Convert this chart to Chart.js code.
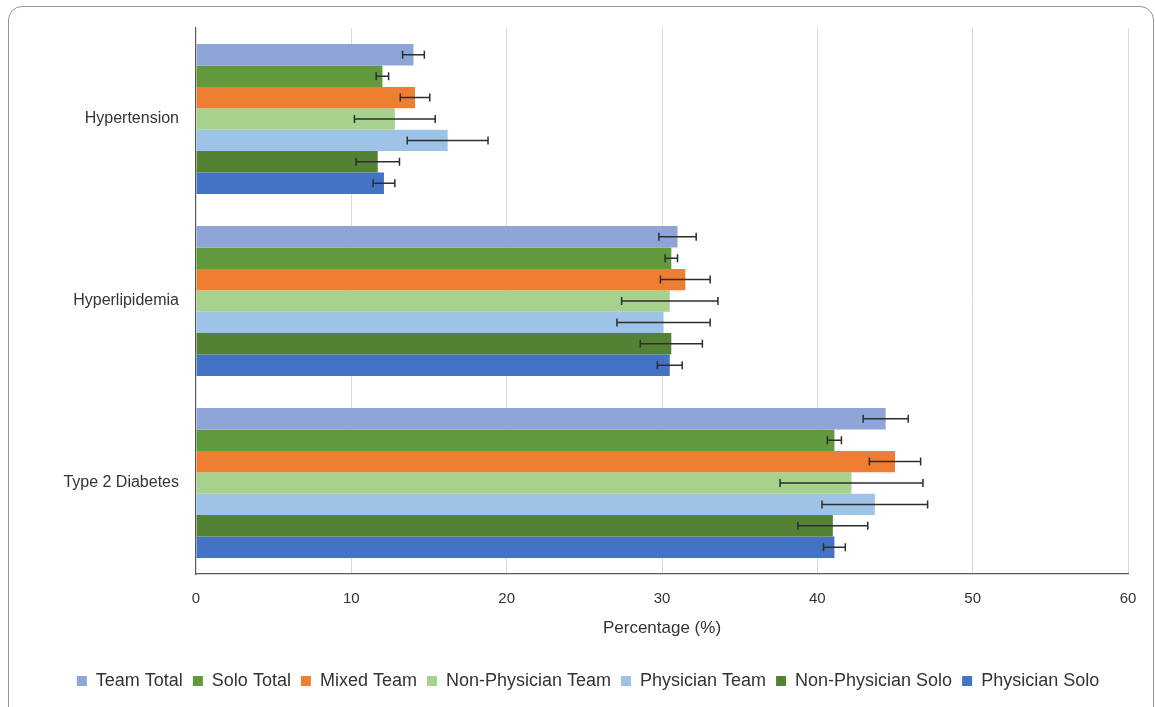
<!DOCTYPE html>
<html>
<head>
<meta charset="utf-8">
<title>Chronic condition prevalence by practice model</title>
<script src="https://cdn.jsdelivr.net/npm/chart.js@4.4.1/dist/chart.umd.min.js"></script>
<style>
  html, body { margin: 0; padding: 0; background: #ffffff; overflow: hidden; }
  #wrap { position: relative; width: 1155px; height: 707px; }
  #frame {
    position: absolute; left: 8px; top: 6px; width: 1146px; height: 730px;
    border: 1.5px solid #969696; border-radius: 14px; box-sizing: border-box;
    pointer-events: none;
  }
  canvas { position: absolute; left: 0; top: 0; }
</style>
</head>
<body>
<div id="wrap">
  <canvas id="chart" width="1155" height="707"></canvas>
  <div id="frame"></div>
</div>
<script>
// Conditions (top to bottom)
const conditions = ['Hypertension', 'Hyperlipidemia', 'Type 2 Diabetes'];

// Practice models, in legend order
const seriesNames = ['Team Total', 'Solo Total', 'Mixed Team', 'Non-Physician Team',
                     'Physician Team', 'Non-Physician Solo', 'Physician Solo'];

// Prevalence (%) per condition for each practice model
const teamTotal        = [14.0, 31.0, 44.4];
const soloTotal        = [12.0, 30.6, 41.1];
const mixedTeam        = [14.1, 31.5, 45.0];
const nonPhysicianTeam = [12.8, 30.5, 42.2];
const physicianTeam    = [16.2, 30.1, 43.7];
const nonPhysicianSolo = [11.7, 30.6, 41.0];
const physicianSolo    = [12.1, 30.5, 41.1];

// Error bar half-widths (percentage points)
const teamTotalErr        = [0.7, 1.2, 1.45];
const soloTotalErr        = [0.4, 0.4, 0.45];
const mixedTeamErr        = [0.95, 1.6, 1.65];
const nonPhysicianTeamErr = [2.6, 3.1, 4.6];
const physicianTeamErr    = [2.6, 3.0, 3.4];
const nonPhysicianSoloErr = [1.4, 2.0, 2.25];
const physicianSoloErr    = [0.7, 0.8, 0.7];

// Axis ticks
const xTicks = [0, 10, 20, 30, 40, 50, 60];

const seriesValues = [teamTotal, soloTotal, mixedTeam, nonPhysicianTeam,
                      physicianTeam, nonPhysicianSolo, physicianSolo];
const seriesErrors = [teamTotalErr, soloTotalErr, mixedTeamErr, nonPhysicianTeamErr,
                      physicianTeamErr, nonPhysicianSoloErr, physicianSoloErr];
const seriesColors = ['#8fa5d7', '#619a3c', '#ed7e32', '#a9d18e',
                      '#9dc3e6', '#548235', '#4472c4'];

const FONT = '"Liberation Sans", Arial, sans-serif';
const TEXT = '#333333';

// Draws symmetric horizontal error bars with end caps on every bar
const errorBars = {
  id: 'errorBars',
  afterDatasetsDraw(chart) {
    const ctx = chart.ctx;
    const xs = chart.scales.x;
    ctx.save();
    ctx.strokeStyle = '#2e2e2e';
    ctx.lineWidth = 1.5;
    chart.data.datasets.forEach((ds, i) => {
      const meta = chart.getDatasetMeta(i);
      if (meta.hidden) return;
      meta.data.forEach((bar, j) => {
        const v = ds.data[j];
        const e = ds.errors[j];
        const x1 = xs.getPixelForValue(v - e);
        const x2 = xs.getPixelForValue(v + e);
        const y = bar.y;
        const cap = 4;
        ctx.beginPath();
        ctx.moveTo(x1, y); ctx.lineTo(x2, y);
        ctx.moveTo(x1, y - cap); ctx.lineTo(x1, y + cap);
        ctx.moveTo(x2, y - cap); ctx.lineTo(x2, y + cap);
        ctx.stroke();
      });
    });
    ctx.restore();
  }
};

new Chart(document.getElementById('chart'), {
  type: 'bar',
  data: {
    labels: conditions,
    datasets: seriesNames.map((name, i) => ({
      label: name,
      data: seriesValues[i],
      errors: seriesErrors[i],
      backgroundColor: seriesColors[i],
      borderWidth: 0,
      categoryPercentage: 0.823,
      barPercentage: 1.0
    }))
  },
  options: {
    indexAxis: 'y',
    responsive: false,
    animation: false,
    devicePixelRatio: 1,
    layout: { padding: { top: 28, right: 27, bottom: 7, left: 48 } },
    scales: {
      x: {
        min: 0, max: 60,
        afterBuildTicks(scale) { scale.ticks = xTicks.map(v => ({ value: v })); },
        afterFit(scale) { scale.height = 88; },
        grid: {
          drawTicks: false,
          color: c => (c.index === 0 ? 'rgba(0,0,0,0)' : '#d9d9d9'),
          lineWidth: 1
        },
        border: { display: true, color: '#595959', width: 1.2 },
        ticks: { padding: 16, color: TEXT, font: { family: FONT, size: 15 } },
        title: {
          display: true,
          text: 'Percentage (%)',
          color: TEXT,
          font: { family: FONT, size: 17 },
          padding: { top: 0, bottom: 23 }
        }
      },
      y: {
        afterFit(scale) { scale.width = 148; },
        grid: { display: true, drawTicks: false, color: 'rgba(0,0,0,0)' },
        border: { display: true, color: '#595959', width: 1.2 },
        ticks: { padding: 17, color: TEXT, font: { family: FONT, size: 16 } }
      }
    },
    plugins: {
      legend: {
        position: 'bottom',
        labels: {
          boxWidth: 10,
          boxHeight: 10,
          padding: 10,
          color: TEXT,
          font: { family: FONT, size: 18 }
        }
      },
      tooltip: { enabled: false }
    }
  },
  plugins: [errorBars]
});
</script>
</body>
</html>
